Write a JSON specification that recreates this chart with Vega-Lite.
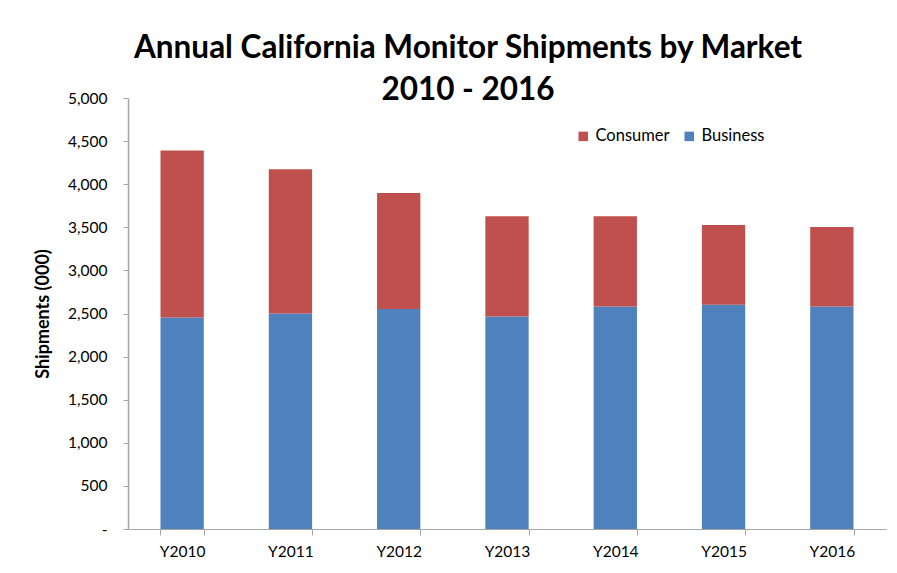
{
  "$schema": "https://vega.github.io/schema/vega-lite/v6.json",
  "width": 758,
  "height": 431,
  "autosize": "none",
  "padding": {"left": 128, "top": 98, "right": 11, "bottom": 44},
  "background": "white",
  "config": {
    "view": {"stroke": null},
    "font": "Lato"
  },
  "title": {
    "text": ["Annual California Monitor Shipments by Market", "2010 - 2016"],
    "font": "Lato",
    "fontSize": 31.5,
    "fontWeight": "bold",
    "color": "#000000",
    "anchor": "middle",
    "dx": -39,
    "lineHeight": 42,
    "offset": -15
  },
  "data": {
    "values": [
      {"year": "Y2010", "market": "Business", "shipments": 2455},
      {"year": "Y2010", "market": "Consumer", "shipments": 1937},
      {"year": "Y2011", "market": "Business", "shipments": 2501},
      {"year": "Y2011", "market": "Consumer", "shipments": 1671},
      {"year": "Y2012", "market": "Business", "shipments": 2552},
      {"year": "Y2012", "market": "Consumer", "shipments": 1346},
      {"year": "Y2013", "market": "Business", "shipments": 2466},
      {"year": "Y2013", "market": "Consumer", "shipments": 1161},
      {"year": "Y2014", "market": "Business", "shipments": 2582},
      {"year": "Y2014", "market": "Consumer", "shipments": 1045},
      {"year": "Y2015", "market": "Business", "shipments": 2602},
      {"year": "Y2015", "market": "Consumer", "shipments": 925},
      {"year": "Y2016", "market": "Business", "shipments": 2582},
      {"year": "Y2016", "market": "Consumer", "shipments": 921}
    ]
  },
  "mark": {"type": "bar"},
  "encoding": {
    "x": {
      "field": "year",
      "type": "nominal",
      "scale": {"paddingInner": 0.6, "paddingOuter": 0.3},
      "axis": {
        "title": null,
        "labelAngle": 0,
        "labelFont": "Lato",
        "labelFontSize": 15.5,
        "labelColor": "#000000",
        "labelPadding": 9,
        "tickBand": "extent",
        "tickSize": 6,
        "tickColor": "#A6A6A6",
        "domainColor": "#A6A6A6",
        "domainWidth": 1.2,
        "grid": false
      }
    },
    "y": {
      "field": "shipments",
      "type": "quantitative",
      "aggregate": "sum",
      "stack": "zero",
      "scale": {"domain": [0, 5000], "nice": false},
      "axis": {
        "title": "Shipments (000)",
        "titleFont": "Lato",
        "titleFontSize": 18,
        "titleFontWeight": "bold",
        "titleColor": "#000000",
        "titlePadding": 15,
        "values": [0, 500, 1000, 1500, 2000, 2500, 3000, 3500, 4000, 4500, 5000],
        "labelExpr": "datum.value == 0 ? '-\u00a0\u00a0\u00a0' : format(datum.value, ',')",
        "labelFont": "Lato",
        "labelFontSize": 15.5,
        "labelColor": "#000000",
        "labelPadding": 16,
        "tickSize": 5,
        "tickColor": "#A6A6A6",
        "domainColor": "#A6A6A6",
        "domainWidth": 1.5,
        "grid": false
      }
    },
    "color": {
      "field": "market",
      "type": "nominal",
      "scale": {"domain": ["Consumer", "Business"], "range": ["#C0504D", "#4F81BD"]},
      "legend": {
        "title": null,
        "orient": "none",
        "direction": "horizontal",
        "legendX": 447,
        "legendY": 30,
        "symbolType": "square",
        "symbolSize": 90,
        "symbolStrokeWidth": 0,
        "labelFont": "Lato",
        "labelFontSize": 16.5,
        "labelColor": "#000000",
        "labelOffset": 4,
        "columnPadding": 11
      }
    },
    "order": {"field": "market", "sort": "ascending"}
  }
}
